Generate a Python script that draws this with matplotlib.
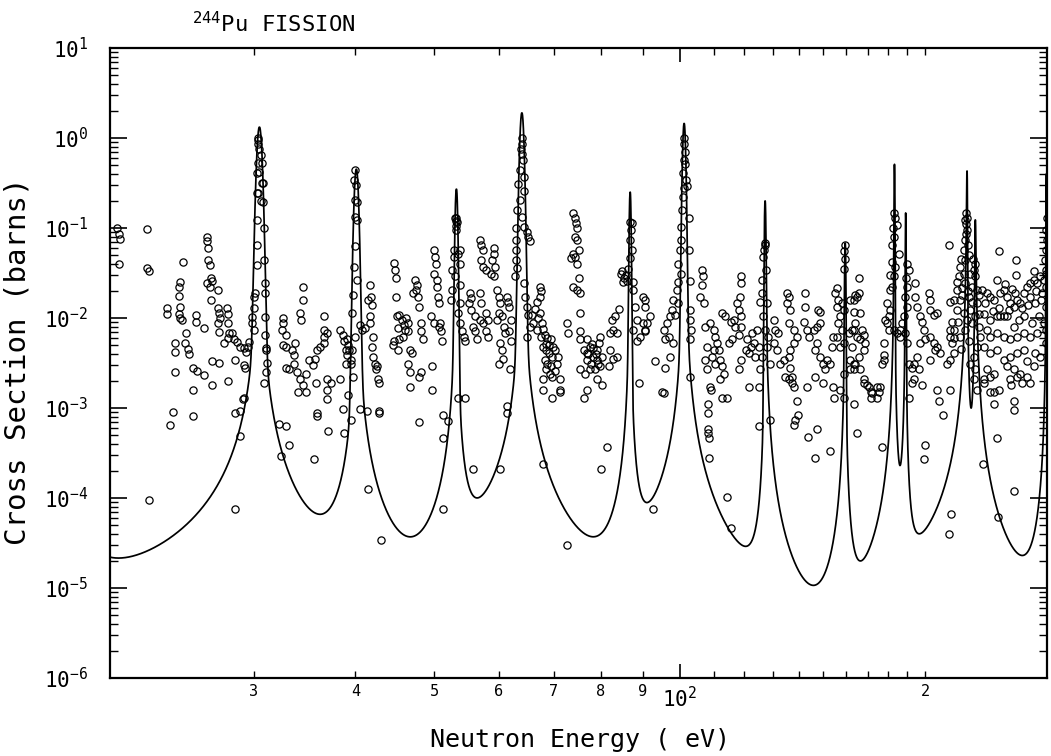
import numpy as np
import matplotlib
matplotlib.use("Agg")
from matplotlib import pyplot as plt
from matplotlib.ticker import FixedLocator, FuncFormatter, NullFormatter

plt.rcParams['font.family'] = 'DejaVu Sans Mono'
plt.rcParams['mathtext.fontset'] = 'custom'
plt.rcParams['mathtext.rm'] = 'DejaVu Sans Mono'
plt.rcParams['mathtext.it'] = 'DejaVu Sans Mono'

# Evaluated curve: resonance energy (eV), peak (barns), core width (eV),
# wing strength on the low / high energy side (barns*eV^2)
res_E = [17.0, 30.5, 40.1, 53.2, 64.0, 86.9, 101.2, 127.2, 159.5, 183.3, 189.2, 225.0, 230.3, 281.5]
res_peak = [0.05, 1.32, 0.45, 0.27, 1.9, 0.25, 1.45, 0.2, 0.068, 0.51, 0.147, 0.43, 0.123, 0.4]
res_width = [0.2, 0.26, 0.28, 0.22, 0.43, 0.25, 0.5, 0.3, 0.3, 0.25, 0.25, 0.25, 0.25, 0.3]
res_wingL = [6.75e-5, 1.6e-3, 4.08e-4, 7.76e-4, 4.07e-3, 1.03e-3, 6.41e-3, 3.51e-4, 8.52e-4, 3.98e-3, 1.05e-3, 2.56e-2, 3.71e-3, 2.84e-3]
res_wingR = [6.75e-5, 1.27e-3, 8.12e-4, 3.04e-4, 4.73e-3, 4.61e-4, 7.9e-3, 2.13e-3, 2.88e-4, 9.5e-4, 4.53e-4, 3.32e-3, 1.57e-2, 2.84e-3]

# measured points (energy eV, cross section barns), grouped by energy range
pts_20_31 = [
    (20.4, 0.10), (20.6, 0.075), (20.5, 0.085), (20.5, 0.040),
    (22.2, 0.098), (22.2, 0.036), (22.3, 0.033),
    (24.6, 0.042), (24.4, 0.025), (24.3, 0.022), (24.3, 0.0175), (24.4, 0.0134), (24.3, 0.011), (24.4, 0.010), (24.5, 0.0095),
    (23.5, 0.0129), (23.5, 0.011), (24.0, 0.0053), (24.0, 0.0042), (24.8, 0.0068), (24.7, 0.0053), (24.9, 0.0045), (25.0, 0.0040),
    (24.0, 0.0025), (25.3, 0.0028), (25.6, 0.0026), (25.3, 0.0016), (25.5, 0.0108), (25.5, 0.009), (26.1, 0.0078),
    (26.3, 0.08), (26.3, 0.072), (26.4, 0.06), (26.4, 0.044), (26.5, 0.039),
    (26.3, 0.0245), (26.5, 0.022), (26.6, 0.028), (26.7, 0.026), (26.6, 0.016),
    (27.1, 0.0205), (27.1, 0.0129), (27.2, 0.0114), (27.3, 0.010), (27.1, 0.0089), (27.2, 0.007),
    (27.8, 0.0129), (27.9, 0.011), (27.9, 0.0087), (28.0, 0.0068), (27.9, 0.006), (27.6, 0.0053),
    (28.2, 0.0068), (28.4, 0.0058), (28.6, 0.0054), (28.9, 0.0048), (29.2, 0.0046), (29.5, 0.0048), (29.4, 0.0042), (29.6, 0.0054),
    (26.7, 0.0033), (27.2, 0.0032), (26.1, 0.0023), (26.7, 0.0018), (27.9, 0.002), (28.5, 0.0034), (29.2, 0.003), (29.3, 0.0028), (29.2, 0.0013),
    (29.9, 0.0102), (30.0, 0.013), (30.0, 0.017), (30.1, 0.019), (29.9, 0.0088), (30.0, 0.0074),
    (23.9, 9.0e-4), (23.7, 6.4e-4), (25.3, 8.1e-4), (28.5, 8.9e-4), (28.9, 9.3e-4), (29.1, 0.00126), (28.9, 4.9e-4), (22.3, 9.5e-5), (28.5, 7.6e-5),
    (30.4, 1.0), (30.4, 0.95), (30.4, 0.85), (30.5, 0.75), (30.6, 0.65), (30.4, 0.53), (30.7, 0.53), (30.5, 0.42), (30.7, 0.32),
    (30.4, 0.245), (30.6, 0.2), (30.3, 0.41), (30.3, 0.245), (30.3, 0.122), (30.3, 0.065), (30.3, 0.039), (30.8, 0.32), (30.8, 0.195),
    (30.9, 0.1), (30.9, 0.044), (31.0, 0.0245), (31.0, 0.019), (31.0, 0.0102), (31.0, 0.0065), (31.1, 0.0047), (31.1, 0.0044),
    (31.2, 0.0032), (31.1, 0.0025), (30.9, 0.0019),
]

pts_31_54 = [
    (32.6, 0.010), (32.6, 0.0087), (32.5, 0.0074), (32.9, 0.0065), (32.6, 0.005), (32.9, 0.0048), (33.4, 0.0044), (33.6, 0.0039),
    (33.7, 0.0053), (34.2, 0.0113), (34.3, 0.0095), (34.5, 0.0223), (34.5, 0.0158),
    (32.9, 0.0028), (33.2, 0.0027), (33.6, 0.0031), (33.9, 0.0025), (34.2, 0.0021), (34.8, 0.0024), (34.5, 0.0018), (35.1, 0.0034),
    (35.5, 0.003), (35.7, 0.0035), (35.9, 0.0044), (36.2, 0.0048), (36.6, 0.0062), (36.6, 0.0074), (36.6, 0.0104), (36.9, 0.0068), (36.6, 0.0053),
    (34.0, 0.0015), (34.8, 0.0015),
    (36.9, 0.0021), (37.3, 0.0019), (38.3, 0.0021), (38.9, 0.0031), (39.0, 0.0044), (39.1, 0.0058),
    (38.3, 0.0074), (38.6, 0.0065), (38.7, 0.0056), (39.2, 0.005), (39.3, 0.0044), (39.1, 0.0039), (39.5, 0.0034),
    (32.2, 6.7e-4), (32.9, 6.3e-4), (33.2, 3.9e-4), (32.4, 2.9e-4), (35.8, 0.0019), (36.9, 0.0016), (35.9, 8.8e-4), (35.9, 8.1e-4),
    (36.9, 0.00126), (38.6, 9.8e-4), (37.0, 5.6e-4), (38.7, 5.3e-4), (39.5, 7.4e-4), (35.6, 2.7e-4),
    (40.0, 0.44), (39.8, 0.34), (40.1, 0.30), (39.9, 0.205), (40.2, 0.196), (39.9, 0.133), (40.2, 0.122), (40.0, 0.063), (39.8, 0.037),
    (40.2, 0.0263), (39.7, 0.018), (39.6, 0.0115), (39.9, 0.0062), (39.6, 0.0044), (39.5, 0.0031), (39.7, 0.0022), (39.2, 0.0014),
    (40.5, 0.0084), (40.8, 0.0074), (41.1, 0.0077), (41.7, 0.0104), (41.7, 0.0087), (41.5, 0.0158), (41.8, 0.017), (41.7, 0.0234),
    (41.9, 0.014), (42.0, 0.0062), (41.9, 0.0048), (42.0, 0.0037), (42.3, 0.0031), (42.5, 0.0029), (42.4, 0.0027), (42.6, 0.0021),
    (40.5, 9.8e-4), (41.3, 9.3e-4), (42.8, 9.3e-4), (42.8, 8.9e-4), (41.4, 1.25e-4), (43.0, 3.4e-5), (42.7, 0.0019),
    (44.6, 0.041), (44.7, 0.034), (44.9, 0.028), (44.8, 0.017), (45.0, 0.0104), (45.1, 0.0077), (44.6, 0.0055), (45.1, 0.0044),
    (45.3, 0.0108), (45.6, 0.0095), (45.9, 0.0084), (46.2, 0.010), (46.4, 0.0087), (46.0, 0.0074), (45.7, 0.0062), (45.2, 0.0058),
    (44.5, 0.0050), (46.4, 0.0071), (46.7, 0.0044), (46.4, 0.0031), (46.7, 0.0025),
    (47.3, 0.0263), (47.6, 0.0234), (47.4, 0.0206), (47.0, 0.0188), (47.7, 0.017), (47.9, 0.0134), (48.2, 0.0087), (48.2, 0.0071),
    (48.4, 0.0058), (46.9, 0.0041), (47.9, 0.0022), (48.2, 0.0025), (46.7, 0.0017), (49.7, 0.0029), (49.7, 0.0016),
    (50.0, 0.057), (50.1, 0.048), (50.2, 0.040), (50.0, 0.031), (50.3, 0.0263), (50.4, 0.0223), (50.5, 0.017), (50.6, 0.0145),
    (49.5, 0.0104), (50.0, 0.0087), (50.6, 0.008), (50.9, 0.0071), (51.1, 0.0055), (50.8, 0.0087),
    (51.2, 8.4e-4), (52.0, 7.1e-4), (47.9, 7.0e-4), (51.2, 4.6e-4), (51.2, 7.6e-5),
    (53.0, 0.128), (53.3, 0.118), (53.1, 0.094), (52.9, 0.057), (52.8, 0.048), (53.4, 0.052), (52.5, 0.034), (53.8, 0.057),
    (53.7, 0.04), (53.0, 0.029), (53.7, 0.0234), (52.5, 0.0206), (52.4, 0.0158), (53.8, 0.0145), (53.5, 0.0113), (53.8, 0.0087),
    (54.0, 0.0071), (54.3, 0.0062), (54.5, 0.0055), (54.5, 0.0013), (53.5, 0.0013), (53.1, 0.13), (53.2, 0.12), (53.1, 0.105),
]

pts_54_72 = [
    (55.3, 0.0188), (55.5, 0.0165), (55.2, 0.0145), (55.5, 0.0123), (56.1, 0.0104), (55.8, 0.008), (56.1, 0.0071), (56.4, 0.0058),
    (56.9, 0.0095), (56.9, 0.0188), (57.1, 0.0145), (57.4, 0.0087), (57.9, 0.0113), (58.1, 0.0095), (57.8, 0.0071), (58.1, 0.0062),
    (56.9, 0.074), (57.1, 0.065), (57.4, 0.057), (57.1, 0.044), (57.4, 0.037), (57.9, 0.034), (59.1, 0.06), (59.2, 0.052),
    (58.9, 0.044), (59.4, 0.037), (59.1, 0.029), (58.6, 0.031),
    (59.6, 0.0206), (60.0, 0.017), (60.2, 0.0145), (60.0, 0.0113), (59.6, 0.0095), (60.5, 0.0104), (60.8, 0.008), (61.1, 0.0068),
    (60.2, 0.0053), (60.5, 0.0044), (60.0, 0.0031), (60.6, 0.0035), (61.9, 0.0027),
    (61.3, 0.017), (61.6, 0.0152), (61.8, 0.0134), (62.1, 0.0095), (61.8, 0.0071), (62.1, 0.0055),
    (55.7, 2.1e-4), (60.1, 2.1e-4), (61.4, 0.00105), (61.3, 8.8e-4),
    (64.0, 1.0), (64.0, 0.85), (63.9, 0.75), (64.0, 0.67), (64.2, 0.57), (63.6, 0.44), (64.3, 0.37), (63.3, 0.31), (64.3, 0.26),
    (63.6, 0.205), (63.1, 0.16), (64.0, 0.133), (63.0, 0.099), (64.3, 0.103), (64.9, 0.091), (65.2, 0.08), (65.5, 0.071),
    (63.0, 0.074), (63.0, 0.057), (63.0, 0.044), (63.1, 0.036), (62.7, 0.029), (64.3, 0.0245), (64.6, 0.017), (64.9, 0.0134),
    (65.2, 0.0108), (65.5, 0.008), (64.9, 0.0062),
    (67.3, 0.0223), (67.5, 0.0197), (67.4, 0.017), (66.8, 0.0152), (66.5, 0.0127), (67.3, 0.0113), (67.7, 0.0087), (66.8, 0.0074),
    (67.5, 0.0062), (68.3, 0.0065), (68.8, 0.006), (69.4, 0.0058), (68.0, 0.0048), (68.6, 0.0044), (69.1, 0.0041), (69.7, 0.0037),
    (68.3, 0.0034), (68.8, 0.0031), (69.4, 0.0029), (70.7, 0.0031), (70.9, 0.0037), (70.3, 0.0044), (68.6, 0.0027), (68.0, 0.0021),
    (69.7, 0.0022), (71.2, 0.0021), (68.0, 0.0016), (69.7, 0.0013), (71.2, 0.0016), (66.1, 0.0087), (65.8, 0.0108),
    (67.0, 0.0100), (67.9, 0.0075), (68.5, 0.0052), (69.0, 0.005), (69.9, 0.0048), (70.2, 0.0026), (69.2, 0.0024),
    (68.0, 2.4e-4), (71.3, 0.0015),
]

pts_72_100 = [
    (74.0, 0.146), (74.4, 0.128), (74.6, 0.114), (74.8, 0.099), (74.4, 0.08), (74.8, 0.074), (73.9, 0.052), (73.6, 0.046),
    (74.4, 0.048), (75.3, 0.057), (74.8, 0.04), (75.3, 0.0277), (74.0, 0.0223), (74.8, 0.0206), (75.5, 0.0188), (75.5, 0.0113),
    (72.7, 0.0087), (73.0, 0.0068), (75.5, 0.0071),
    (75.5, 0.0058), (76.2, 0.0044), (76.9, 0.0041), (77.6, 0.0048), (78.3, 0.0046), (79.1, 0.0044), (78.3, 0.0037), (76.9, 0.0034),
    (77.9, 0.0031), (79.1, 0.0034), (79.8, 0.0062), (79.5, 0.0053), (80.2, 0.0037), (77.6, 0.0027), (76.5, 0.0024), (78.7, 0.0027),
    (79.8, 0.0029), (79.1, 0.0021), (75.5, 0.0027), (76.9, 0.0016), (76.2, 0.0013), (80.2, 0.0018), (81.8, 0.0029), (82.1, 0.0044),
    (82.9, 0.0035), (83.7, 0.0037), (82.5, 0.0095), (83.3, 0.0104), (84.1, 0.0127), (82.9, 0.0074), (83.7, 0.0068), (82.1, 0.0068),
    (77.2, 0.0040), (78.0, 0.0052), (78.8, 0.0040), (77.0, 0.0058), (79.4, 0.0031),
    (72.6, 3.0e-5), (81.5, 3.7e-4), (80.0, 2.1e-4), (92.7, 7.5e-5), (89.2, 0.0019),
    (84.6, 0.031), (85.0, 0.033), (85.4, 0.028), (85.8, 0.030), (86.1, 0.026), (85.2, 0.025), (86.3, 0.035), (87.1, 0.094),
    (87.3, 0.114), (86.9, 0.118), (86.8, 0.074), (87.3, 0.057), (86.9, 0.046), (87.7, 0.025), (87.7, 0.0206), (88.1, 0.0134),
    (88.5, 0.0095), (87.7, 0.0074), (88.5, 0.0055), (89.4, 0.0062), (90.2, 0.0087), (90.6, 0.0074), (90.6, 0.0134), (90.6, 0.0158),
    (90.2, 0.017), (91.1, 0.0087), (91.9, 0.0104), (93.2, 0.0033), (95.1, 0.0015), (90.6, 0.0071),
    (99.1, 0.0206), (98.2, 0.0158), (99.6, 0.0145), (97.8, 0.0123), (98.7, 0.0108), (97.3, 0.0104), (96.4, 0.0087), (95.5, 0.0074),
    (96.9, 0.0062), (98.2, 0.0053), (95.9, 0.0058), (97.3, 0.0037), (95.9, 0.0028), (95.5, 0.00146),
]

pts_100_160 = [
    (101.2, 1.0), (101.2, 0.85), (101.4, 0.7), (101.2, 0.57), (101.5, 0.52), (101.0, 0.41), (101.7, 0.34), (101.2, 0.28),
    (100.8, 0.22), (101.9, 0.29), (102.5, 0.128), (100.6, 0.16), (100.2, 0.103), (100.3, 0.074), (99.9, 0.057), (102.5, 0.057),
    (99.6, 0.04), (100.2, 0.031), (102.8, 0.026), (99.6, 0.025), (103.0, 0.0123), (103.0, 0.0095), (103.2, 0.0074), (103.0, 0.0058),
    (102.8, 0.0022),
    (106.4, 0.034), (106.7, 0.029), (106.4, 0.0234), (106.9, 0.0145), (105.9, 0.017), (107.4, 0.008), (108.9, 0.0087), (110.0, 0.0074),
    (110.5, 0.0062), (111.1, 0.0053), (111.6, 0.0044), (110.0, 0.0044), (107.9, 0.0048), (107.4, 0.0034), (107.9, 0.0027),
    (109.4, 0.0037), (110.5, 0.0031), (112.1, 0.0034), (112.7, 0.0029), (113.2, 0.0024), (112.1, 0.0021), (114.2, 0.0013),
    (112.7, 0.0013), (108.9, 0.0017), (109.3, 0.0016),
    (112.7, 0.0113), (113.7, 0.0104), (115.4, 0.0091), (116.5, 0.0095), (117.0, 0.008), (115.9, 0.0058), (118.7, 0.008), (118.1, 0.0065),
    (117.6, 0.0145), (118.5, 0.017), (118.7, 0.029), (118.7, 0.0245), (118.1, 0.0123), (118.7, 0.0104), (114.8, 0.0053),
    (118.7, 0.0034), (118.1, 0.0027), (121.5, 0.0017), (124.9, 0.0017), (125.5, 0.0027),
    (122.1, 0.0048), (121.0, 0.0058), (123.2, 0.0053), (121.5, 0.0041), (123.8, 0.0037), (124.3, 0.0074), (122.6, 0.0068),
    (120.4, 0.0044), (124.9, 0.0048),
    (127.2, 0.068), (126.9, 0.057), (126.6, 0.048), (127.5, 0.034), (126.1, 0.0263), (126.1, 0.0188), (125.5, 0.0152), (127.8, 0.0145),
    (126.6, 0.0104), (127.2, 0.0074), (128.3, 0.0062), (127.8, 0.0048), (126.1, 0.0037), (129.0, 0.0031), (127.2, 0.064),
    (130.3, 0.0095), (130.9, 0.0074), (132.1, 0.0068), (130.3, 0.0053), (131.5, 0.0044), (132.8, 0.0031), (134.0, 0.0034),
    (134.7, 0.0022), (135.9, 0.0021), (137.2, 0.0019), (137.9, 0.0017), (137.2, 0.0022), (136.6, 0.0028), (135.9, 0.0037),
    (136.6, 0.0044), (137.9, 0.0053), (139.2, 0.0062), (137.9, 0.0074), (135.9, 0.0087), (135.3, 0.0188), (135.9, 0.017),
    (135.3, 0.0145), (136.6, 0.0123), (142.5, 0.0188), (142.5, 0.0134), (141.8, 0.0091), (143.2, 0.0074), (143.8, 0.0062),
    (145.9, 0.0074), (147.3, 0.008), (148.7, 0.0087), (147.9, 0.0123), (148.7, 0.0118), (147.3, 0.0053), (146.6, 0.0044),
    (148.7, 0.0037), (149.9, 0.0031), (151.5, 0.0034), (152.9, 0.0031), (150.8, 0.0027), (146.6, 0.0022), (143.2, 0.0017),
    (149.9, 0.0019), (154.3, 0.0017),
    (108.4, 0.0011), (108.4, 8.8e-4), (108.4, 5.8e-4), (108.4, 5.3e-4), (108.7, 4.7e-4), (108.7, 2.8e-4), (114.2, 1.03e-4),
    (115.6, 4.6e-5), (124.9, 6.3e-4), (129.0, 7.4e-4), (139.2, 0.0012), (139.4, 8.4e-4), (138.5, 7.4e-4), (137.9, 6.4e-4),
    (143.4, 4.8e-4), (147.1, 5.9e-4), (146.6, 2.8e-4), (152.6, 3.3e-4), (154.6, 0.0013),
    (155.8, 0.0214), (155.1, 0.0188), (156.5, 0.0158), (155.8, 0.0134), (158.0, 0.0145), (158.8, 0.0123), (157.3, 0.0104),
    (156.5, 0.0087), (158.0, 0.0074), (155.8, 0.0062), (158.8, 0.0053), (161.0, 0.0068), (162.6, 0.0074), (164.1, 0.0087),
    (163.3, 0.0118), (164.1, 0.018), (163.3, 0.0158), (161.8, 0.0034), (163.3, 0.0031), (161.8, 0.0027), (158.8, 0.0024),
    (154.3, 0.0062), (153.6, 0.0048), (157.3, 0.0048), (158.8, 0.0013), (157.3, 0.0016), (159.2, 0.065), (159.0, 0.055),
    (159.4, 0.045), (159.0, 0.035),
]

pts_160_220 = [
    (165.7, 0.0276), (165.7, 0.0188), (164.9, 0.017), (166.5, 0.0113), (161.8, 0.0158),
    (167.3, 0.0074), (168.1, 0.0065), (168.9, 0.0053), (166.5, 0.0058), (164.9, 0.0062), (163.3, 0.0074), (162.6, 0.0048),
    (168.1, 0.0044), (165.7, 0.0037), (164.1, 0.0031), (163.3, 0.0027), (166.5, 0.0027), (168.1, 0.0021), (170.5, 0.0017),
    (172.1, 0.00146), (174.5, 0.0017), (176.1, 0.0017), (174.5, 0.0013), (168.1, 0.0019),
    (163.3, 0.0011), (164.9, 5.3e-4), (169.7, 0.0018), (171.4, 0.0015), (171.4, 0.0013), (175.3, 0.0015), (177.0, 3.7e-4),
    (182.9, 0.146), (183.8, 0.128), (184.7, 0.108), (182.7, 0.099), (182.9, 0.08), (182.0, 0.065), (185.5, 0.052), (182.0, 0.042),
    (183.8, 0.037), (181.2, 0.03), (182.9, 0.029), (182.0, 0.0223), (181.2, 0.0206), (179.5, 0.0145), (181.2, 0.0123),
    (180.3, 0.0104), (178.6, 0.0095), (179.5, 0.0087), (182.9, 0.0074), (184.7, 0.0068), (186.4, 0.0062), (180.3, 0.0074),
    (177.8, 0.0053), (177.8, 0.0039), (177.8, 0.0034), (177.0, 0.0031),
    (189.9, 0.04), (190.8, 0.034), (189.5, 0.0277), (189.9, 0.0223), (189.0, 0.017), (189.9, 0.0134), (188.1, 0.0104),
    (187.3, 0.0087), (186.4, 0.0074), (189.0, 0.0068), (189.9, 0.0053), (190.8, 0.0031),
    (194.4, 0.0245), (194.4, 0.017), (195.3, 0.0134), (197.2, 0.0104), (198.1, 0.0091), (201.9, 0.0188), (202.8, 0.0158),
    (202.8, 0.0123), (204.7, 0.0108), (206.7, 0.0113), (199.1, 0.0074), (197.2, 0.0053), (200.0, 0.0058), (202.8, 0.0062),
    (204.7, 0.0053), (206.7, 0.0048), (205.7, 0.0044), (208.6, 0.0041), (202.8, 0.0034), (195.3, 0.0037), (193.5, 0.0031),
    (192.5, 0.0028), (196.3, 0.0027), (193.5, 0.0021), (192.5, 0.0019), (198.1, 0.0018), (206.7, 0.0016), (214.6, 0.0016),
    (212.6, 0.0031), (214.6, 0.0034), (216.6, 0.0041), (215.6, 0.0053), (214.6, 0.0062), (216.6, 0.0074), (214.6, 0.0152),
    (215.6, 0.0091), (213.6, 0.065),
    (190.8, 0.0013), (208.0, 0.0012), (210.2, 8.4e-4), (200.0, 3.9e-4), (199.4, 2.7e-4), (215.0, 6.6e-5), (213.8, 4.0e-5),
]

pts_220_282 = [
    (224.5, 0.146), (223.9, 0.122), (224.9, 0.095), (223.9, 0.074), (222.8, 0.057), (223.9, 0.044), (220.7, 0.037), (222.8, 0.031),
    (219.7, 0.029), (223.9, 0.0245), (221.8, 0.0214), (218.6, 0.0206), (227.0, 0.031), (229.2, 0.034), (230.2, 0.029),
    (228.1, 0.0223), (231.3, 0.0206), (226.0, 0.017), (220.7, 0.0158), (216.6, 0.0158), (218.6, 0.0123), (222.8, 0.0113),
    (227.0, 0.0123), (231.3, 0.0145), (230.2, 0.0104), (228.1, 0.0087), (223.9, 0.0074), (220.7, 0.0062), (216.6, 0.006),
    (214.6, 0.0074), (232.4, 0.008), (233.5, 0.0062), (231.3, 0.0048), (229.2, 0.0037), (227.0, 0.0031), (230.2, 0.0027),
    (229.2, 0.0021), (231.3, 0.0016),
    (225.0, 0.13), (224.6, 0.11), (224.2, 0.085), (225.5, 0.065), (226.5, 0.05), (221.5, 0.045), (228.5, 0.045), (230.0, 0.04),
    (219.0, 0.025), (225.5, 0.02), (222.0, 0.018), (228.0, 0.015), (233.0, 0.018), (219.5, 0.009), (225.0, 0.0095), (233.0, 0.011),
    (221.5, 0.0045), (226.0, 0.0055),
    (246.0, 0.055), (258.7, 0.044), (258.2, 0.030), (271.6, 0.033), (281.8, 0.128), (281.5, 0.095), (281.7, 0.074),
    (281.2, 0.057), (280.5, 0.044), (281.0, 0.034),
    (234.7, 0.0206), (238.0, 0.0188), (240.3, 0.017), (236.8, 0.0145), (242.6, 0.0158), (244.9, 0.0263), (247.2, 0.0188),
    (249.5, 0.0206), (251.9, 0.017), (254.3, 0.0145), (256.7, 0.0134), (259.2, 0.0158), (261.6, 0.0145), (264.1, 0.0188),
    (266.6, 0.0223), (269.1, 0.0245), (271.7, 0.0263), (274.2, 0.0245), (276.8, 0.029), (279.5, 0.0263), (281.6, 0.031),
    (281.0, 0.0223), (269.1, 0.017), (272.9, 0.0145), (277.5, 0.0158), (281.0, 0.0134), (275.5, 0.0104), (279.5, 0.0087),
    (281.6, 0.0074), (270.4, 0.0087), (264.1, 0.0104), (260.4, 0.0095), (256.7, 0.008), (251.9, 0.0104), (249.5, 0.0104),
    (247.2, 0.0104), (244.9, 0.0104), (240.3, 0.0095), (238.0, 0.0074), (240.3, 0.0062), (244.9, 0.0068), (249.5, 0.0062),
    (254.3, 0.0058), (259.2, 0.0062), (264.1, 0.0068), (269.1, 0.0062), (274.2, 0.0068), (281.0, 0.0053), (264.1, 0.0044),
    (259.2, 0.0041), (254.3, 0.0037), (249.5, 0.0034), (251.9, 0.0029), (256.7, 0.0027), (261.6, 0.0024), (266.6, 0.0022),
    (259.2, 0.0022), (254.3, 0.0021), (271.7, 0.0029), (276.8, 0.0037), (244.9, 0.0044), (240.3, 0.0041), (235.8, 0.0048),
    (238.0, 0.0027), (242.6, 0.0024), (240.3, 0.0022), (235.8, 0.0021), (272.9, 0.0041), (266.6, 0.0033), (246.0, 0.0128),
    (253.0, 0.0123), (262.5, 0.0128), (267.5, 0.0140), (273.5, 0.0200), (278.0, 0.0190), (236.0, 0.011), (242.0, 0.012),
    (257.5, 0.0190), (250.5, 0.0240), (255.5, 0.0210),
    (235.8, 0.0019), (240.3, 0.0015), (242.6, 0.0015), (246.0, 0.0016), (242.6, 0.0011), (254.8, 0.0018), (256.7, 0.0012),
    (256.7, 9.6e-4), (244.9, 4.6e-4), (235.4, 2.4e-4), (256.7, 1.2e-4), (245.4, 6.2e-5), (262.9, 0.0019), (269.1, 0.0019),
]

x_major = [100]
x_minor = [30, 40, 50, 60, 70, 80, 90, 110, 120, 130, 140, 150, 160, 170, 180, 190, 200]
x_minor_labels = {30: '3', 40: '4', 50: '5', 60: '6', 70: '7', 80: '8', 90: '9', 200: '2'}
y_major = [1e-6, 1e-5, 1e-4, 1e-3, 1e-2, 1e-1, 1e0, 1e1]
y_minor = [k * d for d in y_major[:-1] for k in range(2, 10)]


def resonance_curve(E):
    total = np.zeros_like(E)
    n = len(res_E)
    for i in range(n):
        # each resonance is drawn between its two neighbours
        lo = res_E[i - 1] if i > 0 else 0.0
        hi = res_E[i + 1] if i < n - 1 else np.inf
        d = E - res_E[i]
        wing = np.where(d < 0, res_wingL[i], res_wingR[i])
        lorentz = res_peak[i] * wing / (wing + res_peak[i] * d ** 2)
        core = np.exp(-(d / res_width[i]) ** 2)
        shape = res_peak[i] * core + lorentz * (1 - core)
        total += np.where((E > lo) & (E < hi), shape, 0.0)
    return total


E_grid = np.geomspace(20, 282, 12000)
E_grid = np.unique(np.concatenate([E_grid, [e for e in res_E if 20 <= e <= 282]]))
curve = resonance_curve(E_grid)

points = np.array(pts_20_31 + pts_31_54 + pts_54_72 + pts_72_100 + pts_100_160 + pts_160_220 + pts_220_282)

fig = plt.figure(figsize=(10.51, 7.56), dpi=100)
ax = fig.add_axes([110 / 1051, 1 - 678 / 756, 937 / 1051, 630 / 756])

ax.plot(E_grid, curve, color='black', lw=1.25)
ax.plot(points[:, 0], points[:, 1], 'o', ls='none', mfc='none', mec='black', ms=5.2, mew=0.9)

ax.set_xscale('log')
ax.set_yscale('log')
ax.set_xlim(20, 282)
ax.set_ylim(1e-6, 10)

ax.xaxis.set_major_locator(FixedLocator(x_major))
ax.xaxis.set_major_formatter(FuncFormatter(lambda v, p: r'$10^2$'))
ax.xaxis.set_minor_locator(FixedLocator(x_minor))
ax.xaxis.set_minor_formatter(FuncFormatter(lambda v, p: x_minor_labels.get(int(round(v)), '')))

ax.yaxis.set_major_locator(FixedLocator(y_major))
ax.yaxis.set_major_formatter(FuncFormatter(lambda v, p: r'$10^{%d}$' % int(round(np.log10(v)))))
ax.yaxis.set_minor_locator(FixedLocator(y_minor))
ax.yaxis.set_minor_formatter(NullFormatter())

ax.tick_params(which='both', direction='in', top=True, right=True, colors='black')
ax.tick_params(axis='x', which='major', length=10, width=1.2, labelsize=15, pad=6)
ax.tick_params(axis='x', which='minor', length=5, width=1.0, labelsize=11, pad=4)
ax.tick_params(axis='y', which='major', length=12, width=1.2, labelsize=15, pad=16)
ax.tick_params(axis='y', which='minor', length=6, width=1.0)
for sp in ax.spines.values():
    sp.set_linewidth(1.6)

fig.text(192 / 1051, 1 - 24 / 756, r'$^{244}$Pu FISSION', ha='left', va='center', fontsize=16)
fig.text(580 / 1051, 1 - 740 / 756, 'Neutron Energy ( eV)', ha='center', va='center', fontsize=18)
fig.text(18 / 1051, 1 - 361 / 756, 'Cross Section (barns)', ha='center', va='center', rotation=90, fontsize=21)

fig.savefig('out.png', dpi=100)
